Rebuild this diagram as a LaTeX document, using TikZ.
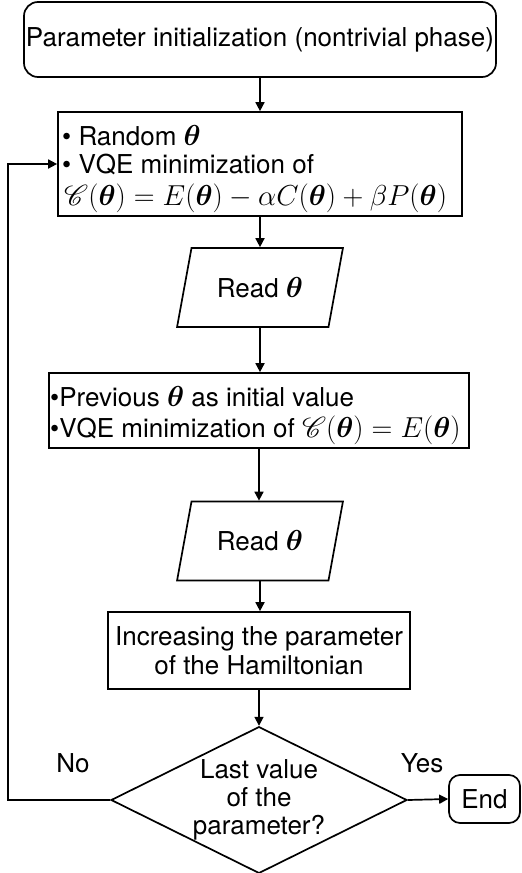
\documentclass[tikz,border=0pt]{standalone}
\usepackage{amsmath}
\usepackage{graphicx}
\usepackage{mathrsfs}
\usepackage[no-math]{fontspec}
\setmainfont{TeX Gyre Heros}
\usetikzlibrary{shapes.geometric,arrows.meta}
\newcommand{\bth}{\boldsymbol{\theta}}
\newcommand{\M}[1]{\scalebox{1.16}{$#1$}}
\begin{document}
\begin{tikzpicture}[x=1pt,y=-1pt,
  every node/.style={font=\fontsize{26}{29}\selectfont, inner sep=0pt},
  box/.style={draw, line width=1.7pt},
  rbox/.style={box, rounded corners=14pt},
  iobox/.style={box, trapezium, trapezium left angle=66, trapezium right angle=114, trapezium stretches=true, minimum width=166pt, minimum height=79pt},
  decbox/.style={box, diamond, aspect=2, minimum width=296pt, minimum height=146pt, align=center, font=\fontsize{26}{28}\selectfont},
  arr/.style={line width=1.7pt, -{Triangle[length=9pt,width=9pt]}},
  lbl/.style={anchor=base},
  line/.style={anchor=base west}]
\useasboundingbox (0,0) rectangle (522,873);
\node[rbox, minimum width=472pt, minimum height=75pt] (start) at (260,39.5) {Parameter initialization (nontrivial phase)};
\node[box, minimum width=404pt, minimum height=104pt] (opt1) at (260,164) {};
\node[line] (opt1a) at (62,145) {• Random \M{\bth}};
\node[line] (opt1b) at (62,173) {• VQE minimization of};
\node[line] (opt1c) at (64,205) {\M{\mathscr{C}(\bth)=E(\bth)-\alpha C(\bth)+\beta P(\bth)}};
\node[iobox] (read1) at (260,287.5) {Read \M{\bth}};
\node[box, minimum width=420pt, minimum height=75pt] (opt2) at (259,410.5) {};
\node[line] (opt2a) at (50,406.5) {•Previous \M{\bth} as initial value};
\node[line] (opt2b) at (50,437) {•VQE minimization of \M{\smash{\mathscr{C}}(\bth)=E(\bth)}};
\node[iobox] (read2) at (260,541) {Read \M{\bth}};
\node[box, minimum width=302pt, minimum height=77pt, align=center] (incr) at (259,650.5) {Increasing the parameter\\of the Hamiltonian};
\node[decbox] (dec) at (259,800) {Last value\\of the\\parameter?};
\node[rbox, rounded corners=11pt, minimum width=71pt, minimum height=48pt] (end) at (484.5,799) {End};
\coordinate (lp) at (8,800);
\draw[arr] (start.south) -- (opt1.north);
\draw[arr] (opt1.south) -- (read1.north);
\draw[arr] (read1.south) -- (read1.south |- opt2.north);
\draw[arr] (opt2.south) -- (opt2.south |- read2.north);
\draw[arr] (read2.south) -- (read2.south |- incr.north);
\draw[arr] (incr.south) -- (dec.north);
\draw[arr] (dec.east) -- (end.west);
\draw[arr] (dec.west) -- (dec.west -| lp) |- (opt1.west);
\node[lbl] (no) at (73,772) {No};
\node[lbl] (yes) at (422,772) {Yes};
\end{tikzpicture}
\end{document}
